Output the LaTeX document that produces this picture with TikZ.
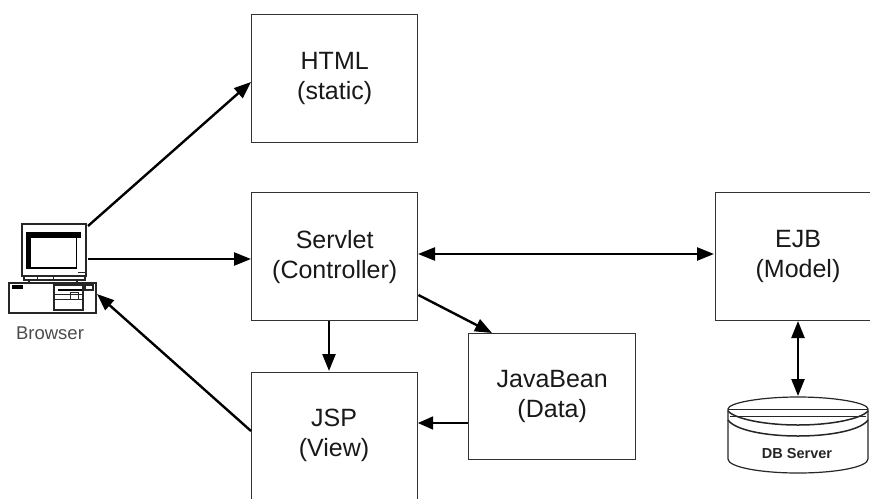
\documentclass[tikz,border=0pt]{standalone}
\usepackage{fontspec}
\setmainfont{Liberation Sans}
\usetikzlibrary{arrows.meta,calc}
\definecolor{boxline}{gray}{0.2}
\tikzset{
 bx/.style={draw=boxline,line width=1.4pt,fill=white,anchor=north west,inner sep=0pt,align=center,font=\fontsize{25}{30}\selectfont,text=black!90},
 lbl/.style={align=center,font=\fontsize{25}{30}\selectfont,text=black!90,inner sep=0pt},
 conn/.style={line width=2.4pt,-{Triangle[length=17pt,width=13pt]}},
 dconn/.style={line width=2.4pt,{Triangle[length=17pt,width=13pt]}-{Triangle[length=17pt,width=13pt]}},
 thinconn/.style={line width=1.4pt,-{Triangle[length=15pt,width=13pt]}},
 pc/.style={draw=black!85,line width=1.2pt,fill=white},
 pcl/.style={draw=black!85,line width=1pt},
 dbl/.style={draw=black!85,line width=1.5pt}
}
\begin{document}
\begin{tikzpicture}[x=1pt,y=-1pt]
\useasboundingbox (0,0) rectangle (870,498);
\clip (0,0) rectangle (870,498);
% boxes
\node[bx,minimum width=166pt,minimum height=128pt] (html) at (251,14) {HTML\\(static)};
\node[bx,minimum width=166pt,minimum height=128pt] (servlet) at (251,192) {Servlet\\(Controller)};
\node[bx,minimum width=166pt,minimum height=150pt] (jsp) at (251,372) {};
\node[lbl] (jsptext) at (334,435) {JSP\\(View)};
\node[bx,minimum width=167pt,minimum height=126pt] (bean) at (468,333) {JavaBean\\(Data)};
\node[bx,minimum width=185pt,minimum height=128pt] (ejb) at (715,192) {};
\node[lbl] (ejbtext) at (798,256) {EJB\\(Model)};
% computer
\draw[pc] (22,224) rectangle (86,276);
\fill[black] (26,232) rectangle (81,238);
\fill[black] (26,232) rectangle (31,269);
\fill[black] (26,267) rectangle (77,269);
\fill[black] (76,238) rectangle (77,269);
\draw[pcl] (78,272) -- (85,272);
\draw[pc] (24,276) rectangle (85,280);
\draw[pcl] (37,276) -- (37,280) (53,276) -- (53,280);
\draw[pc] (29,280) rectangle (77,283);
\draw[pc] (9,283) rectangle (96,313);
\fill[black] (12,285) rectangle (23,289);
\draw[pc] (54,285) rectangle (83,310);
\fill[black] (58,289) rectangle (82,291);
\draw[pcl] (54,294) -- (83,294) (54,299) -- (83,299);
\draw[pcl] (70,292) rectangle (78,299);
\draw[pc] (85,285) rectangle (93,290);
\coordinate (pcright) at (88,226);
\coordinate (pcmid) at (88,259);
\coordinate (pcbase) at (97,294);
\node[font=\fontsize{18.5}{22}\selectfont,text=black!70,inner sep=0pt] (browser) at (50,333) {Browser};
% database
\path[pc] (728,409) .. controls (728,403) and (760,397) .. (798,397) .. controls (836,397) and (868,403) .. (868,409) -- (868,459) .. controls (868,467) and (836,473) .. (798,473) .. controls (760,473) and (728,467) .. (728,459) -- cycle;
\draw[dbl] (728,411) .. controls (735,419) and (765,425) .. (798,425) .. controls (831,425) and (861,419) .. (868,411);
\draw[dbl] (728,420) .. controls (735,430) and (765,436) .. (798,436) .. controls (831,436) and (861,430) .. (868,420);
\draw[line width=1.8pt,black!85] (728,409.5) -- (868,409.5);
\draw[pcl] (730,416) -- (866,416);
\node[font=\bfseries\fontsize{14.5}{16}\selectfont,text=black!85,inner sep=0pt] (dbtext) at (797,454) {DB Server};
\coordinate (dbtop) at (798,396);
% connectors
\draw[conn] (pcright) -- (html.west |- 0,82);
\draw[conn] (pcmid) -- (servlet.west |- pcmid);
\draw[conn] (jsp.west |- 0,431) -- (pcbase);
\draw[conn] (329,321) -- (329,371);
\draw[conn] (servlet.east |- 0,295) -- (bean.north west -| 492,0);
\draw[thinconn] (bean.west |- 0,423) -- (418,423);
\draw[dconn] (418,254) -- (714,254);
\draw[dconn] (798,321) -- (dbtop);
\end{tikzpicture}
\end{document}
